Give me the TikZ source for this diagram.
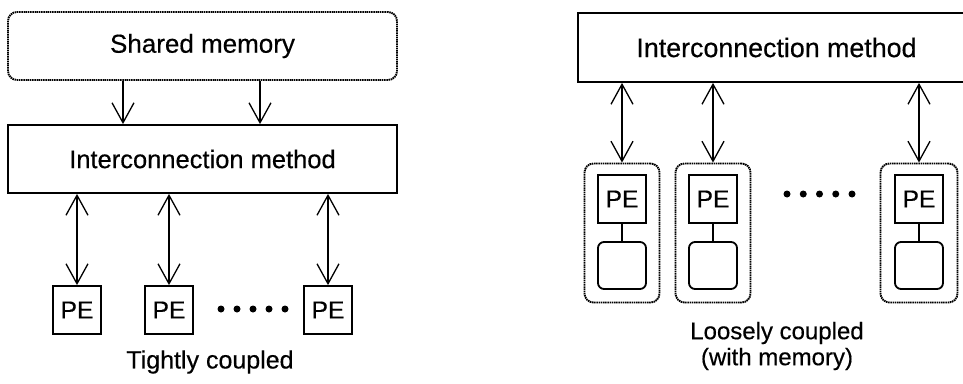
\documentclass[tikz,border=0pt]{standalone}
\usepackage{fontspec}
\setmainfont{Liberation Sans}[FakeBold=0.4]
\usetikzlibrary{arrows.meta}
\begin{document}
\begin{tikzpicture}[x=1pt,y=-1pt,
  box/.style={draw, line width=1.8pt, inner sep=0pt},
  dotbox/.style={draw, line width=1.9pt, dash pattern=on 1.5pt off 0.7pt, rounded corners=9pt, inner sep=0pt},
  pebox/.style={box, minimum width=48pt, minimum height=48pt, font=\fontsize{24.5}{24.5}\selectfont},
  membox/.style={draw, line width=1.8pt, rounded corners=6pt, inner sep=0pt, minimum width=48pt, minimum height=47pt},
  tipv/.tip={Straight Barb[length=20pt,width=22pt]},
  link/.style={line width=1.3pt, -tipv},
  dlink/.style={line width=1.3pt, tipv-tipv},
  dot/.style={circle, fill, inner sep=0pt, minimum size=7pt},
  caption/.style={font=\fontsize{25}{27}\selectfont, align=center, inner sep=0pt},
]
\useasboundingbox (0,0) rectangle (963,383);
\clip (0,0) rectangle (963,383);

% ---- tightly coupled: shared memory over the interconnect ----
\node[dotbox, minimum width=389pt, minimum height=68pt, font=\fontsize{26}{26}\selectfont] (sm) at (202.5,46) {Shared memory};
\node[box, minimum width=389pt, minimum height=68pt, font=\fontsize{25.5}{25.5}\selectfont] (icl) at (202.5,159) {Interconnection method};
\draw[link] ([xshift=-79.5pt]sm.south) -- ([xshift=-79.5pt]icl.north);
\draw[link] ([xshift=57.5pt]sm.south) -- ([xshift=57.5pt]icl.north);

\node[pebox] (pa) at (77,310) {PE};
\node[pebox] (pb) at (169,310) {PE};
\node[pebox] (pc) at (328,310) {PE};
\foreach \p in {pa,pb,pc}
  \draw[dlink] (\p.north |- icl.south) -- (\p.north);
\foreach \i [count=\k] in {221,237,253,269,285}
  \node[dot] (dl\k) at (\i,309) {};
\node[caption] (tc) at (210,362) {Tightly coupled};

% ---- loosely coupled: each PE with its own memory ----
\node[box, minimum width=397pt, minimum height=69pt, font=\fontsize{26.8}{26.8}\selectfont] (icr) at (776.5,47.5) {Interconnection method};

\node[dotbox, minimum width=75pt, minimum height=139pt] (ca) at (622,233) {};
\node[dotbox, minimum width=75pt, minimum height=139pt] (cb) at (713,233) {};
\node[dotbox, minimum width=77pt, minimum height=139pt] (cc) at (919,233) {};

\foreach \c/\x in {a/622,b/713,c/919}{
  \node[pebox] (q\c) at (\x,199) {PE};
  \node[membox] (m\c) at (\x,265.5) {};
  \draw[line width=1.8pt] (q\c.south) -- (m\c.north);
  \draw[dlink] (c\c.north |- icr.south) -- (c\c.north);
}
\foreach \i [count=\k] in {787,803.25,819.5,835.75,852}
  \node[dot] (dr\k) at (\i,194) {};
\node[caption, font=\fontsize{24}{26}\selectfont] (lc) at (777,346) {Loosely coupled\\(with memory)};
\end{tikzpicture}
\end{document}
